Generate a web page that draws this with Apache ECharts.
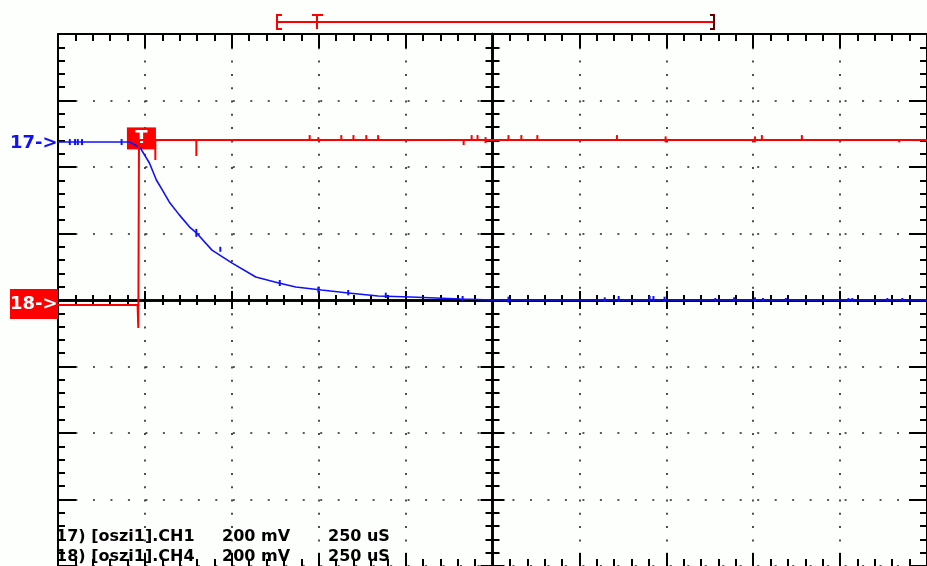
<!DOCTYPE html>
<html>
<head>
<meta charset="utf-8">
<script src="https://cdn.jsdelivr.net/npm/echarts@6/dist/echarts.min.js"></script>
<style>
html,body{margin:0;padding:0;background:#fdfffd;}
#chart{width:927px;height:566px;}
</style>
</head>
<body>
<div id="chart"></div>
<script>
// ---- data (time in µs relative to screen centre, level in mV relative to screen centre) ----
const timeTicks = [-1250, -1000, -750, -500, -250, 0, 250, 500, 750, 1000, 1250];
const levelTicks = [-800, -600, -400, -200, 0, 200, 400, 600, 800];

// Channel 17 (CH1, blue) – exponential decay after the trigger
const ch17Trace = [
  [-1250, 475], [-1044, 475], [-1013, 457], [-987, 412], [-967, 361], [-950, 331],
  [-930, 295], [-901, 256], [-872, 220], [-852, 202], [-807, 150], [-749, 111],
  [-681, 69], [-615, 51], [-566, 39], [-492, 30], [-415, 21], [-329, 12],
  [-235, 9], [-92, 3], [0, 0], [1250, 0]
];
// small glitches on channel 17: [time, low, high]
const ch17Glitches = [
  [-1216, 466, 484], [-1201, 466, 484], [-1193, 466, 484], [-1181, 466, 484], [-1067, 466, 484],
  [-852, 190, 214], [-783, 145, 160], [-612, 42, 60], [-501, 22, 40], [-415, 14, 30],
  [-307, 6, 22], [-86, -4, 12], [46, -8, 10], [323, -6, 8], [363, -6, 12],
  [452, -4, 12], [463, -4, 12], [495, -6, 10], [641, -4, 6], [695, -4, 8],
  [755, -6, 8], [778, -4, 6], [844, -4, 6], [1024, -6, 6], [1035, -6, 6],
  [1136, -4, 6], [1179, -4, 6]
];

// Channel 18 (CH4, red) – step at the trigger
const ch18Trace = [
  [-1250, -15], [-1021, -15], [-1019, -84], [-1017, 481], [1250, 481]
];
// glitches on channel 18: [time, from, to]
const ch18Glitches = [
  [-970, 481, 421], [-852, 481, 433], [-526, 481, 496], [-501, 481, 490], [-435, 481, 496],
  [-400, 481, 496], [-363, 481, 496], [-329, 481, 496], [-83, 481, 466], [-60, 481, 496],
  [-43, 481, 496], [-20, 472, 490], [46, 481, 496], [83, 481, 496], [129, 481, 496],
  [358, 481, 496], [498, 474, 492], [755, 474, 492], [775, 481, 496], [890, 481, 496],
  [1170, 481, 474]
];

const triggerPoint = [-1010, 486];
const channelLabels = ['17->', '18->'];
const infoLines = [
  ['17) [oszi1].CH1', '200 mV', '250 uS'],
  ['18) [oszi1].CH4', '200 mV', '250 uS']
];

const BLUE = '#1010ff';
const RED = '#ff0000';
const BLACK = '#000000';
const FONT = '"DejaVu Sans", Verdana, sans-serif';

const chart = echarts.init(document.getElementById('chart'), null, {renderer: 'canvas'});

function xAx(opt) {
  return Object.assign({
    type: 'value', min: timeTicks[0], max: timeTicks[timeTicks.length - 1], interval: 250,
    axisLabel: {show: false}, splitLine: {show: false},
    axisLine: {show: true, onZero: false, lineStyle: {color: BLACK, width: 2}},
    axisTick: {show: true, inside: true, length: 14, lineStyle: {color: BLACK, width: 2}},
    minorTick: {show: true, splitNumber: 5, length: 7, lineStyle: {color: BLACK, width: 2}}
  }, opt);
}
function yAx(opt) {
  return Object.assign({
    type: 'value', min: levelTicks[0], max: levelTicks[levelTicks.length - 1], interval: 200,
    axisLabel: {show: false}, splitLine: {show: false},
    axisLine: {show: true, onZero: false, lineStyle: {color: BLACK, width: 2}},
    axisTick: {show: true, inside: true, length: 18, lineStyle: {color: BLACK, width: 2}},
    minorTick: {show: true, splitNumber: 5, length: 7, lineStyle: {color: BLACK, width: 2}}
  }, opt);
}

function glitchRenderer(color) {
  return function (params, api) {
    const p1 = api.coord([api.value(0), api.value(1)]);
    const p2 = api.coord([api.value(0), api.value(2)]);
    return {type: 'line', shape: {x1: p1[0], y1: p1[1], x2: p2[0], y2: p2[1]},
      style: {stroke: color, lineWidth: 2}};
  };
}

const graphics = [];
// record window indicator at the top
graphics.push(
  {type: 'line', shape: {x1: 277, y1: 22, x2: 714, y2: 22}, style: {stroke: RED, lineWidth: 2}},
  {type: 'polyline', shape: {points: [[282, 15], [277, 15], [277, 29], [282, 29]]}, style: {stroke: RED, lineWidth: 2, fill: null}},
  {type: 'line', shape: {x1: 312, y1: 15, x2: 323, y2: 15}, style: {stroke: RED, lineWidth: 2}},
  {type: 'line', shape: {x1: 317, y1: 15, x2: 317, y2: 29}, style: {stroke: RED, lineWidth: 2}},
  {type: 'polyline', shape: {points: [[710, 15], [714, 15], [714, 29], [710, 29]]}, style: {stroke: '#600000', lineWidth: 2, fill: null}}
);
// channel markers
graphics.push(
  {type: 'text', z: 100, style: {text: channelLabels[0], x: 10, y: 143, verticalAlign: 'middle', fill: BLUE, font: 'bold 18px ' + FONT}},
  {type: 'rect', z: 100, shape: {x: 10, y: 289, width: 48, height: 30}, style: {fill: RED}},
  {type: 'text', z: 101, style: {text: channelLabels[1], x: 10, y: 304, verticalAlign: 'middle', fill: '#ffffff', font: 'bold 18px ' + FONT}}
);
// info text
infoLines.forEach(function (line, i) {
  const y = 537 + i * 20;
  const xs = [56, 222, 328];
  line.forEach(function (s, j) {
    graphics.push({type: 'text', z: 100, style: {text: s, x: xs[j], y: y, verticalAlign: 'middle', fill: BLACK, font: 'bold 16px ' + FONT}});
  });
});

const option = {
  animation: false,
  backgroundColor: '#fdfffd',
  grid: {left: 58, top: 34, width: 874, height: 532, containLabel: false},
  xAxis: [
    xAx({position: 'top', splitLine: {show: true, lineStyle: {color: '#222', width: 1.6, type: [2, 11.3]}}}),
    xAx({position: 'bottom', axisLine: {show: false, onZero: false}, axisTick: {show: true, inside: true, length: 13, lineStyle: {color: BLACK, width: 2}}}),
    xAx({position: 'bottom', axisLine: {show: true, onZero: true, onZeroAxisIndex: 0, lineStyle: {color: BLACK, width: 2.5}},
      axisTick: {show: true, inside: true, length: 9, lineStyle: {color: BLACK, width: 2}},
      minorTick: {show: true, splitNumber: 5, length: 5, lineStyle: {color: BLACK, width: 2}}}),
    xAx({position: 'top', axisLine: {show: true, onZero: true, onZeroAxisIndex: 0, lineStyle: {color: BLACK, width: 2.5}},
      axisTick: {show: true, inside: true, length: 9, lineStyle: {color: BLACK, width: 2}},
      minorTick: {show: true, splitNumber: 5, length: 5, lineStyle: {color: BLACK, width: 2}}})
  ],
  yAxis: [
    yAx({position: 'left', splitLine: {show: true, lineStyle: {color: '#222', width: 1.6, type: [2, 15.48]}}}),
    yAx({position: 'right'}),
    yAx({position: 'left', axisLine: {show: true, onZero: true, onZeroAxisIndex: 0, lineStyle: {color: BLACK, width: 2.5}},
      axisTick: {show: true, inside: true, length: 12, lineStyle: {color: BLACK, width: 2}},
      minorTick: {show: true, splitNumber: 5, length: 7, lineStyle: {color: BLACK, width: 2}}}),
    yAx({position: 'right', axisLine: {show: true, onZero: true, onZeroAxisIndex: 0, lineStyle: {color: BLACK, width: 2.5}},
      axisTick: {show: true, inside: true, length: 12, lineStyle: {color: BLACK, width: 2}},
      minorTick: {show: true, splitNumber: 5, length: 7, lineStyle: {color: BLACK, width: 2}}})
  ],
  series: [
    {type: 'line', name: 'CH1', data: ch17Trace, xAxisIndex: 0, yAxisIndex: 0, symbol: 'none',
      lineStyle: {color: BLUE, width: 1.6}, z: 5, clip: true},
    {type: 'custom', name: 'CH1 glitches', data: ch17Glitches, xAxisIndex: 0, yAxisIndex: 0,
      renderItem: glitchRenderer(BLUE), encode: {x: 0, y: [1, 2]}, z: 5},
    {type: 'line', name: 'CH4', data: ch18Trace, xAxisIndex: 0, yAxisIndex: 0, symbol: 'none',
      lineStyle: {color: RED, width: 2}, z: 6,
      markPoint: {symbol: 'rect', symbolSize: [29, 22], silent: true,
        itemStyle: {color: RED},
        label: {show: true, formatter: 'T', color: '#ffffff', fontWeight: 'bold', fontSize: 18, fontFamily: FONT},
        data: [{coord: triggerPoint}]}},
    {type: 'custom', name: 'CH4 glitches', data: ch18Glitches, xAxisIndex: 0, yAxisIndex: 0,
      renderItem: glitchRenderer(RED), encode: {x: 0, y: [1, 2]}, z: 6}
  ],
  graphic: graphics
};
chart.setOption(option);
</script>
</body>
</html>
